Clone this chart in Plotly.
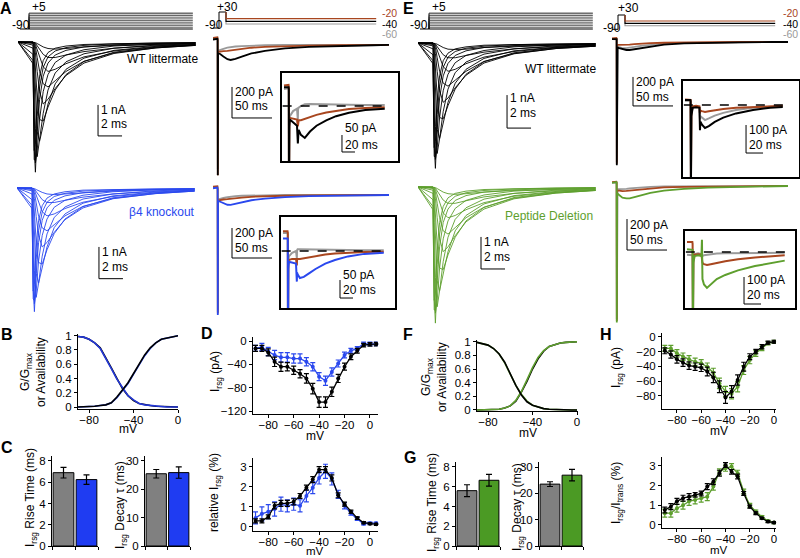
import plotly.graph_objects as go

W, H = 800, 558
FONT = "Liberation Sans, Arial, sans-serif"

C_BLACK = "#000000"
C_GRAY = "#9a9a9a"
C_BROWN = "#a8461f"
C_BLUE = "#2a48ee"
C_GREEN = "#5e9f2e"
C_BAR_GRAY = "#808080"
C_BAR_BLUE = "#1f3cf2"
C_BAR_GREEN = "#4b9a24"

# ---------------- Na+ current families (time in ms, current in nA) ----------------
fam_t = [0, 1.25, 1.35, 1.45, 1.6, 1.8, 2.1, 2.5, 3.1, 4.0, 5.5, 8.0, 11.5, 14.8]
famA_wt = [
    [0, 0, 0, -0.02, -0.05, -0.1, -0.16, -0.21, -0.23, -0.21, -0.16, -0.11, -0.07, -0.05],
    [0, 0, -0.01, -0.04, -0.12, -0.25, -0.4, -0.5, -0.5, -0.42, -0.31, -0.2, -0.12, -0.08],
    [0, 0, -0.02, -0.08, -0.25, -0.5, -0.8, -0.95, -0.88, -0.7, -0.48, -0.29, -0.16, -0.1],
    [0, 0, -0.04, -0.16, -0.5, -0.95, -1.35, -1.45, -1.25, -0.95, -0.62, -0.35, -0.19, -0.11],
    [0, 0, -0.08, -0.35, -0.95, -1.6, -2.0, -1.85, -1.5, -1.08, -0.68, -0.37, -0.19, -0.11],
    [0, 0, -0.2, -0.8, -1.8, -2.5, -2.55, -2.1, -1.55, -1.05, -0.63, -0.33, -0.17, -0.1],
    [0, -0.05, -0.5, -1.6, -2.9, -3.2, -2.7, -2.0, -1.35, -0.88, -0.52, -0.27, -0.14, -0.08],
    [0, -0.1, -1.1, -2.8, -3.7, -3.2, -2.3, -1.55, -1.0, -0.64, -0.38, -0.2, -0.1, -0.06],
    [0, -0.2, -2.2, -3.9, -3.5, -2.5, -1.6, -1.05, -0.66, -0.42, -0.25, -0.13, -0.07, -0.04],
    [0, -0.4, -3.4, -4.2, -2.9, -1.85, -1.1, -0.68, -0.42, -0.27, -0.16, -0.09, -0.05, -0.03],
    [0, -0.6, -3.8, -3.8, -2.4, -1.45, -0.82, -0.48, -0.29, -0.18, -0.11, -0.06, -0.04, -0.02],
    [0, -0.7, -3.5, -3.3, -1.9, -1.1, -0.6, -0.34, -0.2, -0.13, -0.08, -0.05, -0.03, -0.02],
]
famA_ko = [
    [0, 0, 0, -0.02, -0.05, -0.09, -0.14, -0.19, -0.21, -0.19, -0.15, -0.1, -0.06, -0.04],
    [0, 0, -0.01, -0.04, -0.11, -0.23, -0.37, -0.46, -0.46, -0.39, -0.29, -0.19, -0.11, -0.07],
    [0, 0, -0.02, -0.07, -0.23, -0.47, -0.75, -0.88, -0.82, -0.65, -0.45, -0.27, -0.15, -0.09],
    [0, 0, -0.04, -0.15, -0.47, -0.9, -1.26, -1.35, -1.16, -0.88, -0.58, -0.33, -0.18, -0.1],
    [0, 0, -0.07, -0.33, -0.9, -1.5, -1.86, -1.72, -1.4, -1.0, -0.63, -0.34, -0.18, -0.1],
    [0, 0, -0.19, -0.75, -1.7, -2.35, -2.4, -1.95, -1.44, -0.98, -0.59, -0.31, -0.16, -0.09],
    [0, -0.05, -0.47, -1.5, -2.7, -3.0, -2.5, -1.86, -1.25, -0.82, -0.48, -0.25, -0.13, -0.07],
    [0, -0.09, -1.0, -2.6, -3.45, -3.0, -2.15, -1.45, -0.93, -0.6, -0.35, -0.19, -0.09, -0.05],
    [0, -0.19, -2.05, -3.65, -3.25, -2.3, -1.5, -0.98, -0.61, -0.39, -0.23, -0.12, -0.06, -0.04],
    [0, -0.37, -3.15, -3.9, -2.7, -1.72, -1.02, -0.63, -0.39, -0.25, -0.15, -0.08, -0.05, -0.03],
    [0, -0.55, -3.5, -3.55, -2.25, -1.35, -0.76, -0.45, -0.27, -0.17, -0.1, -0.06, -0.04, -0.02],
    [0, -0.65, -3.25, -3.05, -1.78, -1.02, -0.56, -0.32, -0.19, -0.12, -0.07, -0.05, -0.03, -0.02],
]
famE_wt = [
    [0, 0, 0, -0.02, -0.04, -0.09, -0.14, -0.19, -0.2, -0.19, -0.14, -0.1, -0.06, -0.04],
    [0, 0, -0.01, -0.04, -0.11, -0.22, -0.36, -0.45, -0.45, -0.38, -0.28, -0.18, -0.11, -0.07],
    [0, 0, -0.02, -0.07, -0.22, -0.45, -0.72, -0.86, -0.8, -0.63, -0.43, -0.26, -0.14, -0.09],
    [0, 0, -0.04, -0.14, -0.45, -0.86, -1.22, -1.31, -1.13, -0.86, -0.56, -0.32, -0.17, -0.1],
    [0, 0, -0.07, -0.32, -0.86, -1.45, -1.8, -1.67, -1.36, -0.98, -0.61, -0.33, -0.17, -0.1],
    [0, 0, -0.18, -0.72, -1.63, -2.26, -2.3, -1.9, -1.4, -0.95, -0.57, -0.3, -0.15, -0.09],
    [0, -0.05, -0.45, -1.45, -2.62, -2.9, -2.44, -1.8, -1.22, -0.8, -0.47, -0.24, -0.13, -0.07],
    [0, -0.09, -1.0, -2.53, -3.35, -2.9, -2.08, -1.4, -0.9, -0.58, -0.34, -0.18, -0.09, -0.05],
    [0, -0.18, -2.0, -3.53, -3.17, -2.26, -1.45, -0.95, -0.6, -0.38, -0.23, -0.12, -0.06, -0.04],
    [0, -0.36, -3.08, -3.8, -2.62, -1.67, -1.0, -0.62, -0.38, -0.24, -0.14, -0.08, -0.05, -0.03],
    [0, -0.54, -3.44, -3.44, -2.17, -1.31, -0.74, -0.43, -0.26, -0.16, -0.1, -0.05, -0.04, -0.02],
    [0, -0.63, -3.17, -2.99, -1.72, -1.0, -0.54, -0.31, -0.18, -0.12, -0.07, -0.05, -0.03, -0.02],
]
famE_pep = [
    [0, 0, 0, -0.02, -0.05, -0.1, -0.16, -0.21, -0.23, -0.21, -0.16, -0.11, -0.07, -0.05],
    [0, 0, -0.01, -0.04, -0.12, -0.25, -0.41, -0.51, -0.51, -0.43, -0.31, -0.2, -0.12, -0.08],
    [0, 0, -0.02, -0.08, -0.25, -0.51, -0.81, -0.96, -0.89, -0.71, -0.49, -0.29, -0.16, -0.1],
    [0, 0, -0.04, -0.16, -0.51, -0.96, -1.37, -1.47, -1.27, -0.96, -0.63, -0.35, -0.19, -0.11],
    [0, 0, -0.08, -0.35, -0.96, -1.62, -2.02, -1.87, -1.52, -1.09, -0.69, -0.37, -0.19, -0.11],
    [0, 0, -0.2, -0.81, -1.82, -2.53, -2.58, -2.12, -1.57, -1.06, -0.64, -0.33, -0.17, -0.1],
    [0, -0.05, -0.51, -1.62, -2.93, -3.24, -2.73, -2.02, -1.37, -0.89, -0.53, -0.27, -0.14, -0.08],
    [0, -0.1, -1.11, -2.83, -3.74, -3.24, -2.33, -1.57, -1.01, -0.65, -0.38, -0.2, -0.1, -0.06],
    [0, -0.2, -2.22, -3.94, -3.54, -2.53, -1.62, -1.06, -0.67, -0.42, -0.25, -0.13, -0.07, -0.04],
    [0, -0.4, -3.44, -4.25, -2.93, -1.87, -1.11, -0.69, -0.42, -0.27, -0.16, -0.09, -0.05, -0.03],
    [0, -0.61, -3.84, -3.84, -2.43, -1.47, -0.83, -0.49, -0.29, -0.18, -0.11, -0.06, -0.04, -0.02],
    [0, -0.71, -3.54, -3.34, -1.92, -1.11, -0.61, -0.34, -0.2, -0.13, -0.08, -0.05, -0.03, -0.02],
]
fam_levels = [-80, -70, -60, -50, -40, -30, -20, -10, 0, 5]
fam_hold = -90
fam_proto_t = [0, 0.75, 14.4]

# ---------------- Irsg protocol ----------------
rsg_proto_t = [0, 7.5, 16.25, 204]
rsg_hold = -90
rsg_pre = 30
rsg_levels = [-60, -40, -20]

# ---------------- Irsg main traces (ms, pA) ----------------
irsg_t = [0, 5.5, 5.8, 6.0, 6.3, 7.0, 9, 13, 18, 22, 28, 36, 48, 65, 90, 120, 160, 200, 220]
A_wt_m60 = [40, 42, 35, -800, -45, -35, -30, -25, -18, -14, -10, -7, -4, -2, 0, 0, 0, 0, 0]
A_wt_m20 = [45, 50, 40, -840, -50, -45, -42, -40, -38, -35, -30, -25, -18, -12, -7, -4, -2, 0, 0]
A_wt_m40 = [35, 40, 30, -840, -60, -55, -58, -75, -92, -97, -90, -75, -55, -38, -22, -12, -5, -2, 0]
A_ko_m60 = [50, 52, 40, -780, -35, -28, -24, -20, -15, -11, -8, -5, -3, -1, 0, 0, 0, 0, 0]
A_ko_m20 = [55, 58, 45, -790, -40, -35, -32, -30, -28, -25, -21, -17, -12, -8, -5, -3, -1, 0, 0]
A_ko_m40 = [45, 50, 40, -800, -45, -40, -45, -58, -65, -66, -60, -48, -35, -24, -14, -8, -4, -2, 0]
E_wt_m60 = [20, 22, 18, -830, -35, -32, -36, -42, -42, -40, -34, -26, -18, -11, -6, -3, -1, 0, 0]
E_wt_m20 = [25, 28, 22, -840, -25, -20, -20, -21, -20, -18, -15, -11, -8, -5, -3, -1, 0, 0, 0]
E_wt_m40 = [20, 25, 20, -850, -40, -38, -42, -50, -55, -55, -50, -40, -28, -18, -10, -5, -2, 0, 0]
E_pep_m60 = [22, 24, 20, -860, -25, -20, -20, -20, -18, -15, -12, -9, -6, -3, -2, -1, 0, 0, 0]
E_pep_m20 = [25, 28, 22, -870, -30, -28, -30, -33, -32, -30, -25, -20, -14, -9, -5, -3, -1, 0, 0]
E_pep_m40 = [20, 25, 18, -880, -50, -50, -60, -75, -80, -80, -72, -60, -45, -30, -18, -10, -5, -2, 0]

# ---------------- Irsg inset traces (ms, pA) ----------------
inA_t = [0, 7.0, 7.4, 7.7, 8.2, 9, 14, 20, 21.3, 21.6, 22.5, 26, 32, 40, 50, 65, 80, 100, 125, 155]
inA_wt_m60 = [50, 52, 45, -280, -45, -30, -15, -8, -40, -10, -5, 0, 5, 6, 6, 5, 4, 4, 3, 3]
inA_wt_m20 = [60, 62, 55, -300, -50, -35, -38, -40, -60, -45, -42, -42, -38, -32, -26, -19, -14, -9, -6, -4]
inA_wt_m40 = [55, 55, 50, -300, -60, -40, -48, -58, -110, -80, -70, -85, -94, -75, -58, -42, -30, -20, -12, -8]
inA_ko_m60 = [50, 50, 45, -260, -35, -15, -5, 0, -20, 2, 5, 5, 5, 5, 4, 4, 3, 3, 2, 2]
inA_ko_m20 = [55, 55, 50, -280, -40, -25, -22, -22, -40, -25, -22, -22, -20, -18, -14, -10, -7, -5, -3, -2]
inA_ko_m40 = [35, 35, 30, -300, -50, -30, -32, -35, -85, -60, -65, -75, -72, -62, -50, -35, -25, -15, -8, -5]
inE_t = [0, 6.3, 6.6, 7.0, 7.5, 9, 13, 17, 17.6, 18.2, 20, 23.5, 28, 35, 45, 60, 80, 100, 115]
inE_wt_m60 = [15, 15, 12, -290, -35, -8, -5, -8, -50, -40, -45, -54, -48, -38, -28, -18, -10, -6, -4]
inE_wt_m20 = [20, 20, 18, -280, -30, -5, -3, -5, -30, -20, -22, -25, -22, -18, -14, -10, -7, -5, -3]
inE_wt_m40 = [18, 18, 15, -300, -40, -10, -8, -10, -90, -60, -70, -82, -75, -60, -45, -30, -18, -10, -7]
inE_pep_m60 = [-10, -10, -12, -280, -25, -8, -5, -8, -15, -15, -12, -10, -8, -6, -5, -4, -3, -3, -3]
inE_pep_m20 = [37, 37, 30, -290, -30, -10, -8, -10, -30, -40, -45, -48, -45, -40, -34, -27, -20, -16, -12]
inE_pep_m40 = [10, 10, 8, -300, -40, -15, -12, -15, 45, -100, -120, -133, -120, -100, -85, -68, -52, -42, -32]

# ---------------- Activation / availability (B, F) ----------------
gv_mv = [-90, -85, -80, -75, -70, -65, -60, -55, -50, -45, -40, -35, -30, -25, -20, -15, -10, -5, 0]
B_act_wt = [0.0, 0.0, 0.005, 0.01, 0.02, 0.03, 0.06, 0.14, 0.24, 0.34, 0.47, 0.6, 0.73, 0.83, 0.9, 0.95, 0.97, 0.99, 1.0]
B_act_ko = [0.0, 0.0, 0.005, 0.01, 0.02, 0.03, 0.06, 0.13, 0.23, 0.33, 0.46, 0.59, 0.72, 0.82, 0.9, 0.95, 0.97, 0.99, 1.0]
B_inact_wt = [0.99, 0.98, 0.95, 0.9, 0.83, 0.7, 0.55, 0.4, 0.26, 0.16, 0.09, 0.05, 0.03, 0.02, 0.01, 0.005, 0.0, 0.0, 0.0]
B_inact_ko = [0.99, 0.98, 0.95, 0.9, 0.82, 0.69, 0.54, 0.39, 0.27, 0.16, 0.1, 0.05, 0.03, 0.02, 0.01, 0.005, 0.0, 0.0, 0.0]
F_act_wt = [0.0, 0.0, 0.0, 0.005, 0.01, 0.03, 0.06, 0.13, 0.26, 0.42, 0.6, 0.75, 0.86, 0.93, 0.96, 0.98, 0.99, 1.0, 1.0]
F_act_pep = [0.0, 0.0, 0.0, 0.005, 0.01, 0.03, 0.06, 0.14, 0.27, 0.44, 0.62, 0.77, 0.87, 0.93, 0.96, 0.98, 0.99, 1.0, 1.0]
F_inact_wt = [0.99, 0.97, 0.95, 0.9, 0.82, 0.7, 0.52, 0.36, 0.22, 0.12, 0.07, 0.04, 0.02, 0.01, 0.005, 0.0, 0.0, 0.0, 0.0]
F_inact_pep = [0.99, 0.97, 0.95, 0.9, 0.82, 0.69, 0.52, 0.36, 0.23, 0.13, 0.07, 0.04, 0.02, 0.01, 0.005, 0.0, 0.0, 0.0, 0.0]

# ---------------- Bar charts (C, G) ----------------
bar_cats = [1, 2]
C_rise = [6.9, 6.25]
C_rise_err = [0.5, 0.45]
C_decay = [25.5, 25.9]
C_decay_err = [1.5, 2.0]
G_rise = [5.6, 6.65]
G_rise_err = [0.6, 0.6]
G_decay = [23.5, 26.9]
G_decay_err = [0.9, 2.2]

# ---------------- I-V of Irsg (D, H) ----------------
D_mv = [-90, -85, -80, -75, -70, -65, -60, -55, -50, -45, -40, -35, -30, -25, -20, -15, -10, -5, 0, 5]
D_wt = [-12.6, -12.6, -19.5, -35.6, -44, -44, -50, -56, -64, -81.6, -104.6, -104.6, -87, -64, -44, -27, -16.7, -7, -5.7, -5.2]
D_wt_err = [5, 5, 6, 8, 8, 7, 7, 7, 8, 9, 9, 9, 8, 7, 6, 5, 4, 3, 3, 3]
D_ko = [-12.6, -10, -18, -24, -28, -28, -30, -30, -35.6, -44, -61, -68, -53, -38.5, -24, -16.7, -12.6, -5, -5, -5]
D_ko_err = [5, 6, 7, 8, 8, 8, 8, 8, 7, 7, 7, 8, 7, 6, 5, 4, 3, 3, 3, 3]
D_wt_rel = [0.3, 0.3, 0.5, 1.05, 1.17, 1.17, 1.25, 1.54, 1.95, 2.35, 2.84, 2.84, 2.43, 1.57, 1.13, 0.76, 0.44, 0.21, 0.16, 0.13]
D_wt_rel_err = [0.1, 0.1, 0.1, 0.15, 0.15, 0.15, 0.15, 0.12, 0.12, 0.15, 0.15, 0.15, 0.15, 0.12, 0.1, 0.08, 0.06, 0.05, 0.05, 0.05]
D_ko_rel = [0.45, 0.65, 0.76, 0.89, 1.13, 1.05, 1.13, 1.05, 1.54, 1.95, 2.43, 2.76, 2.38, 1.62, 1.05, 0.68, 0.4, 0.16, 0.19, 0.19]
D_ko_rel_err = [0.3, 0.35, 0.35, 0.35, 0.35, 0.3, 0.3, 0.3, 0.3, 0.3, 0.3, 0.35, 0.3, 0.2, 0.15, 0.1, 0.08, 0.06, 0.05, 0.05]
H_mv = [-90, -85, -80, -75, -70, -65, -60, -55, -50, -45, -40, -35, -30, -25, -20, -15, -10, -5, 0]
H_wt = [-19, -24, -30.6, -35, -39, -40.5, -42, -47, -55, -67.6, -82, -74, -58.5, -40.5, -27, -20, -13.5, -8, -6.8]
H_wt_err = [4, 5, 5, 5, 5, 5, 5, 6, 7, 8, 8, 8, 7, 6, 4, 3, 3, 2, 2]
H_pep = [-15.8, -15.8, -22.5, -27, -30.6, -33.8, -36, -40.5, -48.6, -63, -74, -77, -67.6, -45, -31.5, -22.5, -15.8, -9, -6.8]
H_pep_err = [4, 4, 5, 5, 5, 5, 5, 5, 6, 7, 7, 7, 7, 6, 5, 4, 3, 2, 2]
H_wt_rel = [0.76, 0.93, 1.2, 1.36, 1.44, 1.53, 1.6, 1.95, 2.2, 2.63, 3.05, 2.7, 2.46, 1.6, 0.93, 0.6, 0.34, 0.17, 0.12]
H_wt_rel_err = [0.15, 0.15, 0.15, 0.15, 0.15, 0.12, 0.12, 0.15, 0.15, 0.15, 0.12, 0.12, 0.12, 0.1, 0.08, 0.07, 0.05, 0.05, 0.05]
H_pep_rel = [0.6, 0.6, 0.85, 1.0, 1.2, 1.27, 1.36, 1.44, 1.95, 2.7, 2.88, 2.97, 2.63, 1.7, 1.0, 0.68, 0.42, 0.2, 0.12]
H_pep_rel_err = [0.2, 0.2, 0.2, 0.2, 0.2, 0.2, 0.2, 0.2, 0.18, 0.15, 0.15, 0.15, 0.15, 0.12, 0.1, 0.08, 0.06, 0.05, 0.05]

# =====================================================================
fig = go.Figure()
layout_axes = {}
shapes = []
annotations = []
_n = [0]


def new_axes(box, xr, yr, xs=None, ys=None):
    _n[0] += 1
    k = _n[0]
    s = "" if k == 1 else str(k)
    x0, x1, y0, y1 = box
    xa = dict(domain=[x0 / W, x1 / W], range=xr, anchor="y" + s, fixedrange=True, automargin=False)
    ya = dict(domain=[1 - y1 / H, 1 - y0 / H], range=yr, anchor="x" + s, fixedrange=True, automargin=False)
    xa.update(xs if xs is not None else dict(visible=False))
    ya.update(ys if ys is not None else dict(visible=False))
    layout_axes["xaxis" + s] = xa
    layout_axes["yaxis" + s] = ya
    return ("x" + s, "y" + s)


def axstyle(**kw):
    d = dict(visible=True, showline=True, linecolor="black", linewidth=1, ticks="outside",
             ticklen=3, tickwidth=1, tickcolor="black", showgrid=False, zeroline=False,
             tickfont=dict(family=FONT, size=11.5, color="black"))
    d.update(kw)
    return d


def boxstyle():
    return dict(visible=True, showline=True, mirror=True, linecolor="black", linewidth=1.5,
                ticks="", showticklabels=False, showgrid=False, zeroline=False)


def line(ax, x, y, color, width=1.0, dash=None):
    fig.add_trace(go.Scatter(x=x, y=y, mode="lines", line=dict(color=color, width=width, dash=dash),
                             xaxis=ax[0], yaxis=ax[1], hoverinfo="skip", showlegend=False))


def text(x, y, s, color="black", size=12, xanchor="left", bold=False, angle=0):
    if bold:
        s = "<b>" + s + "</b>"
    annotations.append(dict(x=x / W, y=1 - y / H, xref="paper", yref="paper", text=s, showarrow=False,
                            xanchor=xanchor, yanchor="middle", textangle=angle,
                            font=dict(family=FONT, size=size, color=color)))


def scalebar(ax, x, y, dx, dy, t1, t2, ly1, ly2, size=12):
    line(ax, [x, x, x + dx], [y, y - dy, y - dy], "black", 1)
    for lbl, ly in ((t1, ly1), (t2, ly2)):
        annotations.append(dict(x=x, y=ly, xref=ax[0], yref=ax[1], text=lbl, showarrow=False,
                                xanchor="left", yanchor="middle", xshift=1,
                                font=dict(family=FONT, size=size, color="black")))


def hdash(ax, x0, x1):
    shapes.append(dict(type="line", xref=ax[0], yref=ax[1], x0=x0, x1=x1, y0=0, y1=0,
                       line=dict(color="black", width=1.5, dash="dash")))


# ---------------- family panels ----------------
def family(box, yr, data, color, bar):
    ax = new_axes(box, [0, 15], yr)
    for tr in data:
        line(ax, fam_t, tr, color, 0.9)
    scalebar(ax, *bar)
    return ax


def fam_protocol(box):
    ax = new_axes(box, [0, 14.83], [-101.9, 22.8])
    t0, t1, t2 = fam_proto_t
    for lv in fam_levels:
        line(ax, [t1, t1, t2], [fam_hold, lv, lv], "#222222", 0.7)
    line(ax, [t0, t2], [fam_hold, fam_hold], "black", 1)
    return ax


fam_protocol((20, 198, 10, 31))
family((18, 198, 33, 178), [-4.387, 0.29], famA_wt, C_BLACK,
       (6.67, -2.03, 2, 1, "1 nA", "2 ms", -2.19, -2.65))
family((17, 197, 180, 312), [-3.91, 0.25], famA_ko, C_BLUE,
       (6.83, -1.86, 2, 1, "1 nA", "2 ms", -2.02, -2.49))
fam_protocol((420, 598, 10, 31))
family((418, 598, 33, 172), [-3.91, 0.30], famE_wt, C_BLACK,
       (7.42, -1.58, 2, 1, "1 nA", "2 ms", -1.67, -2.12))
family((418, 598, 178, 326), [-4.34, 0.28], famE_pep, C_GREEN,
       (5.25, -1.56, 2, 1, "1 nA", "2 ms", -1.72, -2.19))


# ---------------- Irsg protocol ----------------
def rsg_protocol(box, yr):
    ax = new_axes(box, [0, 223.75], yr)
    t0, t1, t2, t3 = rsg_proto_t
    line(ax, [t0, t1, t1, t2], [rsg_hold, rsg_hold, rsg_pre, rsg_pre], "black", 1)
    for lv, col in zip(rsg_levels, [C_GRAY, C_BLACK, C_BROWN]):
        line(ax, [t2, t2, t3], [rsg_pre, lv, lv], col, 1.1)
    return ax


rsg_protocol((213, 392, 5, 32), [-120, 82.5])
rsg_protocol((612, 791, 8, 32), [-112.7, 88.8])


# ---------------- Irsg main panels ----------------
def rsg_main(box, xr, yr, series, colors, bar):
    ax = new_axes(box, xr, yr)
    for s, c in zip(series, colors):
        line(ax, irsg_t, s, c, 1.8)
    scalebar(ax, *bar)
    return ax


rsg_main((213, 392, 33, 178), [0, 223.75], [-858, 77], [A_wt_m60, A_wt_m20, A_wt_m40],
         [C_GRAY, C_BROWN, C_BLACK], (23.75, -271, 50, 200, "200 pA", "50 ms", -303, -394))
rsg_main((213, 392, 182, 322), [0, 223.75], [-846.7, 86.7], [A_ko_m60, A_ko_m20, A_ko_m40],
         [C_GRAY, C_BROWN, C_BLUE], (23.75, -220, 50, 200, "200 pA", "50 ms", -253, -353))
rsg_main((612, 792, 32, 170), [0, 225], [-882.8, 69], [E_wt_m60, E_wt_m20, E_wt_m40],
         [C_GRAY, C_BROWN, C_BLACK], (26.25, -241, 50, 200, "200 pA", "50 ms", -276, -379))
rsg_main((612, 792, 176, 326), [0, 225], [-903, 64.5], [E_pep_m60, E_pep_m20, E_pep_m40],
         [C_GRAY, C_BROWN, C_GREEN], (18.75, -213, 50, 200, "200 pA", "50 ms", -252, -348))


# ---------------- Irsg insets ----------------
def rsg_inset(box, xr, yr, t, series, colors, dash_end, bar):
    ax = new_axes(box, xr, yr, boxstyle(), boxstyle())
    for s, c in zip(series, colors):
        line(ax, t, s, c, 2.0)
    hdash(ax, xr[0] + 1, dash_end)
    scalebar(ax, *bar)
    return ax


rsg_inset((282, 398, 73, 161), [-3.08, 175.4], [-161.8, 97.1], inA_t,
          [inA_wt_m60, inA_wt_m20, inA_wt_m40], [C_GRAY, C_BROWN, C_BLACK], 158,
          (89.2, -85.3, 20, 50, "50 pA", "20 ms", -64.7, -114.7))
rsg_inset((281, 395, 217, 308), [-3.08, 172.3], [-158.3, 94.4], inA_t,
          [inA_ko_m60, inA_ko_m20, inA_ko_m40], [C_GRAY, C_BROWN, C_BLUE], 158,
          (87.7, -80.6, 20, 50, "50 pA", "20 ms", -66.7, -108))
rsg_inset((683, 799, 81, 177), [-2.35, 134.1], [-257, 85.7], inE_t,
          [inE_wt_m60, inE_wt_m20, inE_wt_m40], [C_GRAY, C_BROWN, C_BLACK], 124,
          (71.8, -71.4, 20, 100, "100 pA", "20 ms", -89, -143))
rsg_inset((685, 795, 231, 308), [-2.35, 127.1], [-207.4, 77.8], inE_t,
          [inE_pep_m60, inE_pep_m20, inE_pep_m40], [C_GRAY, C_BROWN, C_GREEN], 122,
          (67.1, -92.6, 20, 100, "100 pA", "20 ms", -104, -159))


# ---------------- B, F ----------------
def gv_panel(box, xr, yr, curves):
    ax = new_axes(box, xr, yr,
                  axstyle(tickvals=[-80, -40, 0], ticklabelstandoff=-3),
                  axstyle(tickvals=[0, 0.2, 0.4, 0.6, 0.8, 1],
                          ticktext=["0", "0.2", "0.4", "0.6", "0.8", "1"]))
    for ys, c in curves:
        line(ax, gv_mv, ys, c, 1.6)
    return ax


gv_panel((78, 178, 334, 409), [-90, 0], [-0.028, 1.024],
         [(B_inact_wt, C_BLACK), (B_inact_ko, "#2438d8"), (B_act_ko, C_BLUE), (B_act_wt, C_BLACK)])
gv_panel((477, 578, 340, 411), [-89.9, 0.9], [-0.015, 1.025],
         [(F_act_wt, C_BLACK), (F_act_pep, C_GREEN), (F_inact_pep, C_GREEN), (F_inact_wt, C_BLACK)])


# ---------------- C, G bars ----------------
def bar_panel(box, ymax, tickv, vals, errs, colors):
    ax = new_axes(box, [0.5, 2.5], [0, ymax],
                  axstyle(tickvals=[0.5, 1.5, 2.5], showticklabels=False),
                  axstyle(tickvals=tickv))
    fig.add_trace(go.Bar(x=bar_cats, y=vals, width=0.9, xaxis=ax[0], yaxis=ax[1],
                         marker=dict(color=colors, line=dict(color="black", width=1)),
                         error_y=dict(type="data", array=errs, color="black", thickness=1.2, width=3),
                         hoverinfo="skip", showlegend=False))
    return ax


bar_panel((52, 98, 456, 546), 8.47, [0, 2, 4, 6, 8], C_rise, C_rise_err, [C_BAR_GRAY, C_BAR_BLUE])
bar_panel((145, 190, 456, 546), 31.76, [0, 10, 20, 30], C_decay, C_decay_err, [C_BAR_GRAY, C_BAR_BLUE])
bar_panel((456, 500, 462, 546), 8.5, [0, 2, 4, 6, 8], G_rise, G_rise_err, [C_BAR_GRAY, C_BAR_GREEN])
bar_panel((539, 583, 462, 546), 31.9, [0, 10, 20, 30], G_decay, G_decay_err, [C_BAR_GRAY, C_BAR_GREEN])


# ---------------- D, H I-V ----------------
def iv_panel(box, xr, yr, tickv, xt, series):
    ax = new_axes(box, xr, yr, axstyle(tickvals=xt, ticklabelstandoff=-3), axstyle(tickvals=tickv))
    for x, y, e, c in series:
        fig.add_trace(go.Scatter(x=x, y=y, mode="lines+markers", xaxis=ax[0], yaxis=ax[1],
                                 line=dict(color=c, width=1.3), marker=dict(color=c, size=4),
                                 error_y=dict(type="data", array=e, color=c, thickness=1.2, width=2.5),
                                 hoverinfo="skip", showlegend=False, cliponaxis=False))
    return ax


iv_panel((253, 377.6, 337, 414), [-92, 6], [-125, 6.9], [0, -40, -80, -120], [-80, -60, -40, -20, 0],
         [(D_mv, D_ko, D_ko_err, C_BLUE), (D_mv, D_wt, D_wt_err, C_BLACK)])
iv_panel((253, 377.6, 458, 531), [-92, 6], [-0.2, 3.42], [0, 1, 2, 3], [-80, -60, -40, -20, 0],
         [(D_mv, D_ko_rel, D_ko_rel_err, C_BLUE), (D_mv, D_wt_rel, D_wt_rel_err, C_BLACK)])
iv_panel((662, 776, 333, 409.3), [-92.3, 1.6], [-98, 5], [0, -20, -40, -60, -80], [-80, -60, -40, -20, 0],
         [(H_mv, H_pep, H_pep_err, C_GREEN), (H_mv, H_wt, H_wt_err, C_BLACK)])
iv_panel((662, 776, 456.7, 528.3), [-92.3, 1.6], [-0.17, 3.47], [0, 1, 2, 3], [-80, -60, -40, -20, 0],
         [(H_mv, H_pep_rel, H_pep_rel_err, C_GREEN), (H_mv, H_wt_rel, H_wt_rel_err, C_BLACK)])

# ---------------- texts ----------------
for lbl, x, y in (("A", 6, 8), ("E", 408, 8), ("B", 7, 335), ("C", 7, 447), ("D", 207, 333),
                  ("F", 408, 335), ("G", 410, 457), ("H", 606, 335)):
    text(x, y, lbl, size=16, xanchor="center", bold=True)

# protocol labels
text(30, 7, "+5"); text(10, 25, "-90")
text(430, 7, "+5"); text(408, 25, "-90")
text(215, 7, "+30"); text(203, 25, "-90")
text(616, 8, "+30"); text(601, 28, "-90")
for xr_ in (399, 800):
    text(xr_, 13.5, "-20", C_BROWN, size=10.5, xanchor="right")
    text(xr_, 24, "-40", C_BLACK, size=10.5, xanchor="right")
    text(xr_, 34.5, "-60", C_GRAY, size=10.5, xanchor="right")

text(200, 59, "WT littermate", xanchor="right")
text(197, 212, "β4 knockout", C_BLUE, xanchor="right")
text(598, 69, "WT littermate", xanchor="right")
text(595, 216, "Peptide Deletion", C_GREEN, xanchor="right")

# axis titles
text(33, 372, "G/G<sub>max</sub><br>or Availability", xanchor="center", angle=-90)
text(434, 377, "G/G<sub>max</sub><br>or Availability", xanchor="center", angle=-90)
text(128, 429, "mV", xanchor="center")
text(528, 433, "mV", xanchor="center")
text(31, 498, "I<sub>rsg</sub> Rise Time (ms)", xanchor="center", angle=-90)
text(121, 505, "I<sub>rsg</sub> Decay τ (ms)", xanchor="center", angle=-90)
text(433, 503, "I<sub>rsg</sub> Rise Time (ms)", xanchor="center", angle=-90)
text(518, 507, "I<sub>rsg</sub> Decay τ (ms)", xanchor="center", angle=-90)
text(216, 372, "I<sub>rsg</sub> (pA)", xanchor="center", angle=-90)
text(315, 436, "mV", xanchor="center")
text(215, 493, "relative I<sub>rsg</sub> (%)", xanchor="center", angle=-90)
text(315, 551, "mV", xanchor="center", size=11.5)
text(617, 368, "I<sub>rsg</sub> (pA)", xanchor="center", angle=-90)
text(719, 431, "mV", xanchor="center")
text(617, 493, "I<sub>rsg</sub>/I<sub>trans</sub> (%)", xanchor="center", angle=-90)
text(719, 550, "mV", xanchor="center", size=11.5)

fig.update_layout(
    width=W, height=H, margin=dict(l=0, r=0, t=0, b=0),
    paper_bgcolor="white", plot_bgcolor="white", showlegend=False,
    font=dict(family=FONT, size=12, color="black"),
    shapes=shapes, annotations=annotations, **layout_axes,
)
fig.write_html("out.html", config={"displayModeBar": False},
               post_script="document.body.style.margin='0';document.body.style.overflow='hidden';")
